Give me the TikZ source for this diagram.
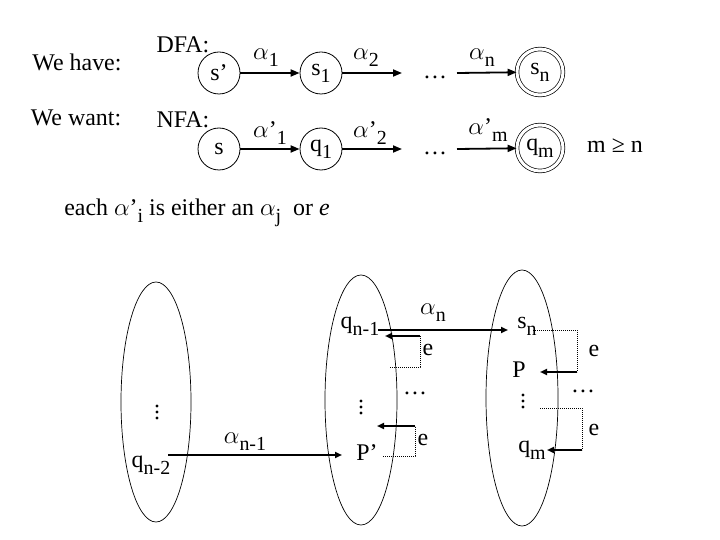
\documentclass[tikz,border=0pt]{standalone}
\usepackage{fontspec}
\setmainfont{Liberation Serif}
\usetikzlibrary{arrows.meta,shapes.geometric}
\newcommand{\sbs}[1]{\raisebox{-7bp}{\fontsize{20}{20}\selectfont #1}}
\newcommand{\alp}{\ensuremath{\alpha}}
\tikzset{
  lbl/.style={inner sep=0pt, font=\fontsize{24}{26}\selectfont},
  state/.style={circle, draw, line width=0.8bp, minimum size=42bp, inner sep=0pt, font=\fontsize{24}{26}\selectfont},
  accept/.style={circle, draw, line width=0.7bp, double, double distance=3bp, minimum size=46bp, inner sep=0pt, font=\fontsize{24}{26}\selectfont},
  grp/.style={ellipse, draw, line width=0.7bp, minimum width=#1, inner sep=0pt},
  arr/.style={line width=1.8bp, -{Triangle[length=9bp,width=7bp]}},
  sarr/.style={line width=1.8bp, -{Triangle[length=7bp,width=6bp]}},
  dot/.style={line width=0.8bp, dash pattern=on 1bp off 1bp},
  vdt/.style={minimum width=4bp, minimum height=17bp, inner sep=0pt,
    path picture={\foreach \d in {-6,0,6} \fill ([yshift=\d bp]path picture bounding box.center) circle (1.7bp);}}
}
\begin{document}
\begin{tikzpicture}[x=1bp,y=-1bp]
\useasboundingbox (0,0) rectangle (720,540);
% headings
\node[lbl] (have) at (77,62) {We have:};
\node[lbl] (want) at (76,118) {We want:};
\node[lbl] (dfa) at (183,45) {DFA:};
\node[lbl] (nfa) at (183,120) {NFA:};
% row 1
\node[state] (sp) at (219,73) {s’};
\node[state] (s1) at (321,73) {s\sbs{1}};
\coordinate (r1a) at (402,73);
\node[lbl] (d1) at (435,77) {…};
\coordinate (r1b) at (457,73);
\node[accept] (sn) at (540,72) {s\sbs{n}};
\draw[arr] (sp) -- (s1);
\draw[arr] (s1) -- (r1a);
\draw[arr] (r1b) -- (sn);
\node[lbl] (a1) at (266,58) {\alp\sbs{1}};
\node[lbl] (a2) at (366,58) {\alp\sbs{2}};
\node[lbl] (an) at (482,58) {\alp\sbs{n}};
% row 2
\node[state] (s) at (219,149) {s};
\node[state] (q1) at (321,149) {q\sbs{1}};
\coordinate (r2a) at (402,149);
\node[lbl] (d2) at (435,153) {…};
\coordinate (r2b) at (457,149);
\node[accept] (qm) at (540,148) {q\sbs{m}};
\draw[arr] (s) -- (q1);
\draw[arr] (q1) -- (r2a);
\draw[arr] (r2b) -- (qm);
\node[lbl] (ap1) at (270,133) {\alp’\sbs{1}};
\node[lbl] (ap2) at (370,133) {\alp’\sbs{2}};
\node[lbl] (apm) at (488,130) {\alp’\sbs{m}};
\node[lbl] (mn) at (615,146) {m ≥ n};
% note
\node[lbl] (note) at (197,213) {each \alp’\sbs{i} is either an \alp\sbs{j}\ \ or \textit{e}};
% groups
\node[grp=70bp, minimum height=240bp] (g1) at (156,402) {};
\node[grp=72bp, minimum height=250bp] (g2) at (361,400) {};
\node[grp=72bp, minimum height=256bp] (g3) at (522,398) {};
% left group
\node[lbl] (qn2) at (151,465) {q\sbs{n-2}};
\node[vdt] (v1) at (157,412) {};
\coordinate (l1) at (168,455);
\coordinate (l2) at (342,455);
\draw[sarr] (l1) -- (l2);
\node[lbl] (an1) at (245,442) {\alp\sbs{n-1}};
% middle group
\node[lbl] (qn1) at (360,326) {q\sbs{n-1}};
\node[lbl] (Pp) at (367,453) {P’};
\node[vdt] (v2) at (361,407) {};
\node[lbl] (d3) at (415,393) {…};
\node[lbl] (e1) at (428,350) {e};
\node[lbl] (e2) at (423,440) {e};
\node[lbl] (anl) at (433,313) {\alp\sbs{n}};
\coordinate (m1) at (378,330);
\coordinate (m2) at (508,330);
\draw[sarr] (m1) -- (m2);
\coordinate (ea) at (390,367);
\coordinate (eb) at (420,367);
\coordinate (ec) at (420,336);
\coordinate (ed) at (385,336);
\draw[dot] (ea) -- (eb) -- (ec);
\draw[sarr] (ec) -- (ed);
\coordinate (fa) at (383,456);
\coordinate (fb) at (415,456);
\coordinate (fc) at (415,426);
\coordinate (fd) at (377,426);
\draw[dot] (fa) -- (fb) -- (fc);
\draw[sarr] (fc) -- (fd);
% right group
\node[lbl] (sn2) at (527,326) {s\sbs{n}};
\node[lbl] (P) at (519,370) {P};
\node[vdt] (v3) at (523,401) {};
\node[lbl] (d4) at (583,391) {…};
\node[lbl] (e3) at (594,351) {e};
\node[lbl] (e4) at (594,430) {e};
\node[lbl] (qm2) at (532,450) {q\sbs{m}};
\coordinate (ga) at (533,330);
\coordinate (gb) at (577,330);
\coordinate (gc) at (577,372);
\coordinate (gd) at (540,372);
\draw[dot] (ga) -- (gb) -- (gc);
\draw[sarr] (gc) -- (gd);
\coordinate (ha) at (540,408);
\coordinate (hb) at (582,408);
\coordinate (hc) at (582,450);
\coordinate (hd) at (547,450);
\draw[dot] (ha) -- (hb) -- (hc);
\draw[sarr] (hc) -- (hd);
\end{tikzpicture}
\end{document}
